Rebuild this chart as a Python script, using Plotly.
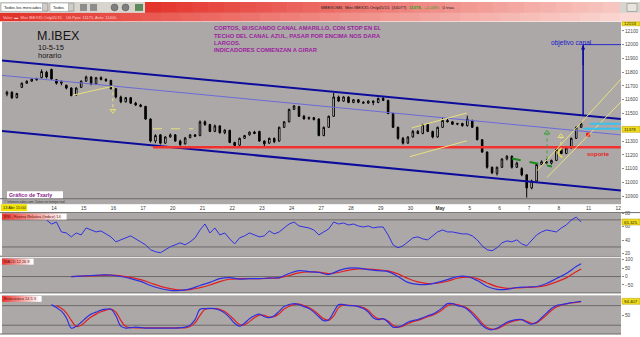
import plotly.graph_objects as go

W, H = 640, 337

# ---------------- data ----------------
day_labels = ["14", "15", "16", "17", "20", "21", "22", "23", "24", "27", "28", "29", "30",
              "<b>May</b>", "5", "6", "7", "8", "11", "12"]
bars_per_day = 6
first_day_bar = 9.5

opens = [11640, 11655, 11615, 11690, 11720, 11735, 11750, 11760, 11800, 11820,
         11745, 11720, 11705, 11685, 11635, 11690, 11735, 11765, 11715, 11760,
         11748, 11740, 11680, 11620, 11585, 11615, 11575, 11562, 11552, 11460,
         11300, 11345, 11285, 11330, 11345, 11300, 11280, 11325, 11345, 11340,
         11440, 11420, 11370, 11410, 11360, 11378, 11290, 11270, 11320, 11345,
         11365, 11370, 11300, 11285, 11320, 11300, 11400, 11440, 11530, 11550,
         11480, 11462, 11470, 11460, 11340, 11400, 11480, 11620, 11590, 11620,
         11580, 11600, 11582, 11576, 11590, 11580, 11610, 11595, 11500, 11400,
         11320, 11285, 11330, 11370, 11355, 11420, 11370, 11330, 11400, 11450,
         11440, 11422, 11428, 11412, 11450, 11400, 11310, 11220, 11110, 11065,
         11110, 11170, 11190, 11110, 11100, 11055, 10960, 11010, 11130, 11150,
         11140, 11160, 11240, 11210, 11250, 11320, 11400]
highs = [11665, 11660, 11650, 11725, 11740, 11755, 11760, 11820, 11810, 11825,
         11750, 11740, 11710, 11690, 11690, 11740, 11775, 11770, 11765, 11770,
         11755, 11745, 11685, 11630, 11620, 11620, 11585, 11570, 11555, 11465,
         11350, 11350, 11335, 11355, 11350, 11310, 11330, 11350, 11350, 11450,
         11450, 11425, 11420, 11415, 11385, 11382, 11295, 11325, 11345, 11370,
         11375, 11375, 11305, 11325, 11325, 11405, 11445, 11535, 11562, 11555,
         11490, 11478, 11475, 11465, 11405, 11485, 11650, 11630, 11625, 11625,
         11605, 11605, 11590, 11595, 11595, 11615, 11625, 11600, 11505, 11405,
         11330, 11335, 11380, 11380, 11425, 11425, 11375, 11405, 11470, 11460,
         11445, 11432, 11432, 11485, 11455, 11405, 11315, 11225, 11115, 11115,
         11175, 11198, 11195, 11150, 11110, 11060, 11020, 11135, 11160, 11170,
         11165, 11245, 11250, 11255, 11325, 11405, 11440]
lows = [11625, 11605, 11610, 11685, 11715, 11730, 11740, 11755, 11755, 11745,
        11710, 11705, 11675, 11625, 11630, 11685, 11730, 11705, 11710, 11740,
        11730, 11675, 11610, 11575, 11580, 11570, 11555, 11545, 11455, 11290,
        11285, 11275, 11280, 11325, 11295, 11265, 11275, 11320, 11330, 11335,
        11410, 11365, 11365, 11355, 11350, 11285, 11250, 11265, 11315, 11340,
        11350, 11295, 11255, 11280, 11285, 11295, 11395, 11435, 11525, 11475,
        11455, 11455, 11450, 11335, 11335, 11395, 11475, 11585, 11585, 11575,
        11575, 11575, 11570, 11570, 11560, 11575, 11590, 11495, 11395, 11310,
        11275, 11280, 11325, 11350, 11350, 11365, 11320, 11325, 11395, 11435,
        11418, 11415, 11405, 11405, 11395, 11305, 11215, 11100, 11060, 11050,
        11105, 11160, 11100, 11105, 11045, 10890, 10950, 11005, 11125, 11135,
        11130, 11155, 11205, 11205, 11245, 11315, 11395]
closes = [11655, 11615, 11645, 11720, 11735, 11750, 11745, 11805, 11765, 11750,
          11720, 11730, 11685, 11630, 11685, 11735, 11765, 11715, 11760, 11748,
          11738, 11680, 11620, 11585, 11615, 11575, 11562, 11552, 11460, 11300,
          11340, 11285, 11330, 11345, 11300, 11275, 11322, 11345, 11335, 11440,
          11420, 11370, 11410, 11360, 11380, 11290, 11268, 11320, 11340, 11365,
          11355, 11300, 11280, 11320, 11295, 11400, 11440, 11530, 11555, 11480,
          11462, 11470, 11456, 11340, 11400, 11480, 11620, 11590, 11620, 11580,
          11600, 11582, 11576, 11590, 11580, 11610, 11595, 11500, 11400, 11320,
          11285, 11330, 11370, 11355, 11420, 11370, 11330, 11400, 11450, 11440,
          11422, 11428, 11412, 11460, 11400, 11310, 11220, 11110, 11070, 11110,
          11170, 11190, 11110, 11140, 11055, 10960, 11010, 11130, 11150, 11140,
          11160, 11240, 11210, 11250, 11320, 11400, 11425]

price_ticks = [10900, 11000, 11100, 11200, 11300, 11500, 11600, 11700, 11800, 11900, 12000, 12100]
last_price = 11378
top_price_label = 12153

rsi_x = [8, 9, 10, 11, 12, 13, 14, 15, 16, 17, 18, 19, 21, 22, 23, 24, 25, 27, 28, 29,
         30, 31, 32, 33, 35, 36, 37, 38, 39, 40, 41, 42, 43, 44, 45, 46, 47, 48, 49, 50,
         51, 52, 53, 54, 55, 56, 57, 58, 59, 60, 61, 62, 63, 64, 65, 66, 67, 68, 69, 70,
         71, 72, 73, 74, 75, 76, 77, 78, 79, 80, 81, 82, 83, 84, 85, 86, 87, 88, 89, 90,
         91, 92, 93, 94, 95, 96, 97, 98, 99, 100, 101, 102, 103, 104, 105, 106, 107, 108,
         109, 110, 111, 112, 113, 114, 115, 116]
rsi_vals = [69.8, 63.9, 66.8, 52.2, 50.7, 44.9, 50.7, 47.8, 58.1, 55.1, 52.2, 53.7, 44.9,
            37.6, 40.5, 43.4, 46.4, 37.6, 33.2, 25.9, 23.0, 21.5, 25.9, 30.3, 36.1, 33.2,
            37.6, 43.4, 55.1, 63.9, 50.7, 58.1, 47.8, 50.7, 42.0, 34.6, 43.4, 46.4, 50.7,
            47.8, 44.9, 46.4, 53.7, 49.3, 52.2, 58.1, 63.9, 66.8, 61.0, 59.5, 58.1, 55.1,
            47.8, 52.2, 56.6, 66.8, 63.9, 65.4, 62.4, 63.9, 61.0, 59.5, 61.0, 58.1, 59.5,
            59.5, 47.8, 33.2, 28.8, 31.7, 37.6, 43.4, 44.9, 42.0, 40.5, 46.4, 52.2, 55.1,
            52.2, 52.2, 50.7, 49.3, 49.3, 46.4, 40.5, 31.7, 25.9, 24.4, 28.8, 36.1, 39.0,
            37.6, 40.5, 34.6, 31.7, 40.5, 47.8, 52.2, 55.1, 53.7, 52.2, 58.1, 62.4, 69.8,
            74.1, 66.8]
rsi_last = "65.325"

macd_x = [13, 15, 17, 19, 21, 23, 25, 27, 29, 31, 33, 35, 37, 39, 41, 43, 45, 47, 49, 51,
          53, 55, 57, 59, 61, 63, 65, 67, 69, 71, 73, 75, 77, 79, 81, 83, 85, 87, 89, 91,
          93, 95, 97, 99, 101, 103, 105, 107, 109, 111, 113, 115, 116]
macd_line = [0, 3, 6, 9, 9, 0, -12, -29, -53, -71, -82, -82, -73, -53, -35, -12, -6, -15,
             -12, -12, -9, -6, 18, 35, 29, 24, 12, 35, 50, 50, 41, 35, 29, 0, -35, -47, -47,
             -35, -18, 0, 0, -24, -59, -76, -76, -65, -62, -59, -41, -12, 18, 59, 76]
macd_signal = [0, 2, 4, 7, 8, 4, -5, -18, -38, -58, -72, -80, -78, -66, -50, -30, -16, -13,
               -12, -12, -10, -8, 6, 22, 27, 26, 18, 24, 38, 45, 44, 40, 34, 16, -12, -32,
               -42, -40, -28, -10, -4, -12, -38, -60, -70, -68, -65, -62, -52, -32, -8, 28, 45]
macd_ticks = [100, 50, 0, -50]

stoch_k_x = [9, 10, 11, 12, 13, 14, 15, 16, 17, 18, 19, 20, 21, 22, 23, 24, 26, 28, 30, 32,
             34, 36, 37, 38, 39, 40, 42, 43, 44, 45, 46, 47, 48, 49, 50, 51, 52, 53, 54, 55,
             56, 58, 59, 60, 61, 62, 63, 64, 65, 66, 67, 68, 69, 70, 71, 72, 73, 74, 75, 76,
             77, 78, 79, 80, 81, 82, 83, 84, 85, 86, 87, 88, 89, 90, 91, 92, 93, 94, 95, 96,
             97, 98, 99, 100, 101, 102, 103, 104, 105, 106, 107, 108, 109, 110, 111, 112, 113,
             114, 115, 116]
stoch_k = [83, 74, 63, 43, 11, 17, 29, 43, 54, 60, 66, 69, 69, 49, 17, 11, 14, 11, 11, 11,
           11, 14, 20, 37, 69, 71, 71, 66, 57, 43, 26, 17, 26, 40, 49, 54, 46, 43, 49, 63,
           77, 86, 83, 77, 71, 60, 46, 34, 37, 60, 83, 83, 80, 80, 77, 71, 60, 43, 37, 40,
           29, 14, 14, 20, 29, 34, 37, 43, 49, 54, 63, 74, 86, 86, 80, 77, 69, 54, 37, 20,
           9, 6, 11, 20, 29, 34, 37, 37, 29, 23, 29, 43, 57, 71, 80, 83, 86, 89, 91, 93]
stoch_d_x = [10, 11, 12, 13, 14, 15, 16, 17, 18, 19, 20, 21, 22, 23, 24, 26, 28, 30, 32, 34,
             36, 37, 38, 39, 40, 42, 43, 44, 45, 46, 47, 48, 49, 50, 51, 52, 53, 54, 55, 56,
             58, 59, 60, 61, 62, 63, 64, 65, 66, 67, 68, 69, 70, 71, 72, 73, 74, 75, 76, 77,
             78, 79, 80, 81, 82, 83, 84, 85, 86, 87, 88, 89, 90, 91, 92, 93, 94, 95, 96, 97,
             98, 99, 100, 101, 102, 103, 104, 105, 106, 107, 108, 109, 110, 111, 112, 113, 114,
             115, 116]
stoch_d = [80, 72, 58, 35, 16, 20, 33, 45, 54, 61, 66, 69, 60, 35, 16, 12, 12, 12, 12, 12,
           12, 16, 27, 50, 68, 71, 69, 62, 50, 35, 22, 21, 31, 43, 51, 50, 45, 46, 55, 70,
           83, 85, 80, 74, 65, 52, 40, 35, 48, 74, 82, 81, 80, 78, 74, 65, 50, 40, 39, 33,
           20, 14, 17, 25, 31, 35, 40, 46, 51, 58, 68, 80, 85, 83, 78, 72, 60, 44, 26, 13,
           8, 9, 16, 25, 31, 35, 37, 32, 26, 27, 38, 51, 65, 76, 81, 85, 88, 90, 92]
stoch_last = "94.407"

# drawn study lines: (bar index pair, price pair)
channel_upper = ([-1.0, 124.0], [11885, 11460])
channel_lower = ([-1.0, 124.0], [11374, 10942])
channel_mid = ([-1.0, 124.0], [11777, 11345])
support_line = ([29.5, 124.0], [11255, 11255])
target_x = 116.4
target_from, target_price = 11482, 12000
cyan_lines = [([117.8, 124.0], [11425, 11425]), ([116.4, 124.0], [11389, 11389])]
red_dot = (117.4, 11345)
yellow_up_a = ([107.1, 124.2], [11086, 11755])
yellow_up_b = ([109.1, 124.2], [11036, 11590])
yellow_apr_upper = ([81.8, 92.9], [11396, 11504])
yellow_apr_lower = ([81.4, 92.9], [11187, 11302])
yellow_mid_apr = ([13.3, 21.4], [11633, 11698])
yellow_drop_arrow = (21.4, 11698, 11520)
yellow_flag = ([29.5, 37.6], [11389, 11389])
green_flag = ([102.0, 110.1], [11173, 11115])
green_arrow = (109.1, 11123, 11360)
yellow_arrow = (111.9, 11230, 11335)
yellow_arc = ([112.2, 111.3, 112.2], [11252, 11215, 11180])

# ---------------- layout helpers ----------------
def PX(px):
    return px / W

def PY(py):
    return 1 - py / H

GRAY = "#ADA8A8"
X_DOM = [PX(2), PX(621)]
X_RANGE = [-1.0, 124.05]

shapes = []
annots = []

def rect(x0, y0, x1, y1, fill, line=None, lw=0):
    shapes.append(dict(type="rect", xref="paper", yref="paper", x0=PX(x0), x1=PX(x1),
                       y0=PY(y1), y1=PY(y0), fillcolor=fill,
                       line=dict(color=line or fill, width=lw), layer="above"))

def hline_px(x0, x1, y, color, w=1):
    shapes.append(dict(type="line", xref="paper", yref="paper", x0=PX(x0), x1=PX(x1),
                       y0=PY(y), y1=PY(y), line=dict(color=color, width=w), layer="above"))

def mix(c0, c1, t):
    a = [int(c0[i:i + 2], 16) for i in (1, 3, 5)]
    b = [int(c1[i:i + 2], 16) for i in (1, 3, 5)]
    return "#%02x%02x%02x" % tuple(round(a[k] + (b[k] - a[k]) * t) for k in range(3))

def gradient(x0, y0, x1, y1, c0, c1, n=24):
    step = (x1 - x0) / n
    for k in range(n):
        rect(x0 + k * step, y0, x0 + (k + 1) * step + 0.6, y1, mix(c0, c1, k / (n - 1)))

def text(px, py, s, size, color="#111", bold=False, anchor="left", bg=None, family="Liberation Sans, Arial"):
    annots.append(dict(xref="paper", yref="paper", x=PX(px), y=PY(py), text=("<b>%s</b>" % s) if bold else s,
                       showarrow=False, xanchor=anchor, yanchor="middle",
                       font=dict(size=size, color=color, family=family),
                       bgcolor=bg, borderpad=0))

def dline(xs, ys, color, width=1, dash="solid"):
    shapes.append(dict(type="line", xref="x", yref="y", x0=xs[0], x1=xs[1], y0=ys[0], y1=ys[1],
                       line=dict(color=color, width=width, dash=dash), layer="above"))

# ---------------- figure ----------------
fig = go.Figure()

fig.add_trace(go.Candlestick(
    x=list(range(len(closes))), open=opens, high=highs, low=lows, close=closes,
    increasing=dict(line=dict(color="#000000", width=1), fillcolor="#FFFFFF"),
    decreasing=dict(line=dict(color="#000000", width=1), fillcolor="#000000"),
    whiskerwidth=0, showlegend=False, hoverinfo="skip", xaxis="x", yaxis="y"))

# markers for arrow heads / dot
fig.add_trace(go.Scatter(x=[yellow_drop_arrow[0]], y=[yellow_drop_arrow[2]], mode="markers",
                         marker=dict(symbol="triangle-down-open", size=5, color="#E8E070", line=dict(width=1)),
                         showlegend=False, hoverinfo="skip"))
fig.add_trace(go.Scatter(x=[green_arrow[0]], y=[green_arrow[2]], mode="markers",
                         marker=dict(symbol="triangle-up-open", size=5, color="#3CA03C", line=dict(width=1)),
                         showlegend=False, hoverinfo="skip"))
fig.add_trace(go.Scatter(x=[yellow_arrow[0]], y=[yellow_arrow[2]], mode="markers",
                         marker=dict(symbol="triangle-up-open", size=5, color="#E8E070", line=dict(width=1)),
                         showlegend=False, hoverinfo="skip"))
fig.add_trace(go.Scatter(x=[red_dot[0]], y=[red_dot[1]], mode="markers",
                         marker=dict(symbol="square", size=4, color="#F02020"),
                         showlegend=False, hoverinfo="skip"))
fig.add_trace(go.Scatter(x=yellow_arc[0], y=yellow_arc[1], mode="lines",
                         line=dict(color="#F0E040", width=1.5, shape="spline"),
                         showlegend=False, hoverinfo="skip"))

# indicators
fig.add_trace(go.Scatter(x=rsi_x, y=rsi_vals, mode="lines", line=dict(color="#2F2FE0", width=1),
                         xaxis="x2", yaxis="y2", showlegend=False, hoverinfo="skip"))
fig.add_trace(go.Scatter(x=macd_x, y=macd_signal, mode="lines", line=dict(color="#E02020", width=1.2, shape="spline"),
                         xaxis="x3", yaxis="y3", showlegend=False, hoverinfo="skip"))
fig.add_trace(go.Scatter(x=macd_x, y=macd_line, mode="lines", line=dict(color="#2F2FE0", width=1.2, shape="spline"),
                         xaxis="x3", yaxis="y3", showlegend=False, hoverinfo="skip"))
fig.add_trace(go.Scatter(x=stoch_d_x, y=stoch_d, mode="lines", line=dict(color="#E02020", width=1.2, shape="spline"),
                         xaxis="x4", yaxis="y4", showlegend=False, hoverinfo="skip"))
fig.add_trace(go.Scatter(x=stoch_k_x, y=stoch_k, mode="lines", line=dict(color="#2F2FE0", width=1.2, shape="spline"),
                         xaxis="x4", yaxis="y4", showlegend=False, hoverinfo="skip"))

# ----- study lines on price chart -----
dline(*channel_mid, "#6A6AD8", 1)
dline(*channel_upper, "#0C0C9C", 2)
dline(*channel_lower, "#0C0C9C", 2)
dline(*support_line, "#F23030", 2.5)
dline(*yellow_up_a, "#E8E27A", 1)
dline(*yellow_up_b, "#E8E27A", 1)
dline(*yellow_apr_upper, "#E8E27A", 1)
dline(*yellow_apr_lower, "#E8E27A", 1)
dline(*yellow_mid_apr, "#E8E27A", 1)
dline([yellow_drop_arrow[0]] * 2, list(yellow_drop_arrow[1:]), "#E8E27A", 1, "dot")
dline(*yellow_flag, "#E8E27A", 1, "dash")
dline(*green_flag, "#1E8A1E", 2, "dash")
dline([green_arrow[0]] * 2, list(green_arrow[1:]), "#3CA03C", 1, "dot")
dline([yellow_arrow[0]] * 2, list(yellow_arrow[1:]), "#E8E27A", 1, "dot")
for xs, ys in cyan_lines:
    dline(xs, ys, "#3CC0EC", 2)
dline([target_x, target_x], [target_from, target_price], "#0C0C9C", 1.5)
dline([target_x, X_RANGE[1]], [target_price, target_price], "#2A2AC8", 1)

# horizontal level lines of indicators
for yref, lv in (("y2", 70), ("y2", 30), ("y3", 0), ("y4", 80), ("y4", 20)):
    xr = "x" + yref[1:]
    shapes.append(dict(type="line", xref=xr + " domain", yref=yref, x0=0, x1=1, y0=lv, y1=lv,
                       line=dict(color="#6F6A6A", width=1), layer="below"))

# ----- top toolbar -----
rect(0, 0, 640, 11, "#D8D5CF")
rect(1, 1, 48, 9.5, "#FFFFFF", "#8A8A8A", 0.5)
rect(42.5, 1.5, 47.5, 9, "#D0CCC6", "#8A8A8A", 0.5)
text(2.5, 5.3, "Todos los mercados", 4.2, "#222")
rect(50, 1, 74, 9.5, "#FFFFFF", "#8A8A8A", 0.5)
rect(68.5, 1.5, 73.5, 9, "#D0CCC6", "#8A8A8A", 0.5)
text(51.5, 5.3, "Todos", 4.2, "#222")
for x0 in (80, 90):
    rect(x0, 2, x0 + 7, 9, "#8C8C8C")
for x0 in (111, 122):
    shapes.append(dict(type="circle", xref="paper", yref="paper", x0=PX(x0), x1=PX(x0 + 7),
                       y0=PY(9), y1=PY(2), fillcolor="#7E7E7E", line=dict(color="#555", width=0.5), layer="above"))
rect(135, 2, 143, 9, "#5C8A5C")
gradient(145, 0, 619, 11, "#E4352D", "#F8C6C0", 30)
rect(627, 1.5, 637, 9.5, "#E8E4DE", "#777", 0.5)
text(320, 5.5, "MBEXOM6  Mini IBEX35 Only05/15  (34077)  <span style='color:#1FA01F'><b>11378,</b></span>"
     "  <span style='color:#1FA01F'>+1.03%</span>   0 trias", 4.3, "#222")
# red info bar
gradient(0, 11, 640, 19.5, "#E3342C", "#FBD8D3", 32)
text(2, 15.3, "Valor: \u25ac  Mini IBEX35 Only05/15    Ult.Ppio: 11175, Ants: 11400.", 4.0, "#F8D0CC")

# ----- main panel texts -----
text(36, 34, "M.IBEX", 12.5, "#141414")
text(37, 45.5, "10-5-15", 7.5, "#141414")
text(37, 54, "horario", 7.5, "#141414")
purple = "#9C1CA0"
for k, line in enumerate(["CORTOS, BUSCANDO CANAL AMARILLO, CON STOP EN EL",
                          "TECHO DEL CANAL AZUL, PASAR POR ENCIMA NOS DARA",
                          "LARGOS.",
                          "INDICADORES COMIENZAN A GIRAR"]):
    text(213, 26.7 + k * 7.2, line, 5.8, purple, bold=True)
text(550, 41.5, "objetivo canal", 6.6, "#1616C8")
text(586, 153, "soporte", 6.0, "#E82020", bold=True)
annots.append(dict(xref="x", yref="y", x=target_x, y=target_price - 5, ax=target_x, ay=target_price - 160,
                   axref="x", ayref="y", showarrow=True, arrowhead=2, arrowsize=0.7, arrowwidth=1.2,
                   arrowcolor="#0C0C9C", text=""))

# bottom of main panel
hline_px(0, 621, 198.5, "#6E6A6A", 1)
rect(7, 191, 63, 198, "#FFFFFF")
text(8, 194.6, "Gráfico de Txarly", 5.3, "#8A1C8A", bold=True)
text(3, 201.3, "\u00a9 Infomercados.com. Datos en tiempo real", 3.2, "#333")
rect(1, 204, 27, 211, "#F2E400")
text(2, 207.6, "13 Abr 15:00", 4.0, "#222")
hline_px(0, 640, 212.5, "#6E6A6A", 1)

# indicator label boxes
for y0, y1, w, lab in ((213.5, 219.5, 64, "RSI - Fuerza Relativa (Indice) 14"),
                       (259, 265, 31, "MACD 12 26 9"),
                       (296.5, 302.5, 39, "Estocástico 14 5 3")):
    gradient(2, y0, 2 + w, y1, "#EC3A32", "#FFFFFF", 16)
    text(3, (y0 + y1) / 2, lab, 3.9, "#5A1010")

# panel separators
hline_px(0, 621, 256.5, "#6E6A6A", 1)
hline_px(0, 621, 293.5, "#6E6A6A", 1)
hline_px(0, 621, 335, "#6E6A6A", 1)

# right-side value boxes
def ybox(py0, py1, s):
    rect(622, py0, 640, py1, "#F0DC18", "#B09A00", 0.5)
    text(623, (py0 + py1) / 2, s, 4.3, "#222")

ybox(20, 24, str(top_price_label))
ybox(125.5, 131.5, str(last_price))
ybox(219, 225, rsi_last)
ybox(299, 305, stoch_last)

axis_font = dict(size=4.8, color="#4A4A4A", family="Liberation Sans, Arial")
common_y = dict(side="right", showgrid=False, zeroline=False, ticks="outside", ticklen=2,
                tickcolor="#8A8A8A", tickfont=axis_font, showline=False, fixedrange=True)
common_x = dict(domain=X_DOM, range=X_RANGE, showgrid=False, zeroline=False, fixedrange=True)

fig.update_layout(
    width=W, height=H, margin=dict(l=0, r=0, t=0, b=0),
    paper_bgcolor="#FFFFFF", plot_bgcolor=GRAY, showlegend=False,
    boxgap=0.55,
    xaxis=dict(**common_x, anchor="y", tickvals=[first_day_bar + bars_per_day * k for k in range(len(day_labels))],
               ticktext=day_labels, ticks="", tickfont=dict(size=4.8, color="#333", family="Liberation Sans, Arial"),
               rangeslider=dict(visible=False), showline=False),
    yaxis=dict(**common_y, domain=[PY(204), PY(20)], range=[10842, 12165.5], anchor="x",
               tickvals=price_ticks, ticktext=[str(v) for v in price_ticks]),
    xaxis2=dict(**common_x, anchor="y2", showticklabels=False, ticks=""),
    yaxis2=dict(**common_y, domain=[PY(256), PY(213)], range=[17.1, 80.0], anchor="x2",
                tickvals=[80, 60, 40, 20]),
    xaxis3=dict(**common_x, anchor="y3", showticklabels=False, ticks=""),
    yaxis3=dict(**common_y, domain=[PY(293.5), PY(258)], range=[-97, 111.7], anchor="x3",
                tickvals=macd_ticks),
    xaxis4=dict(**common_x, anchor="y4", showticklabels=False, ticks=""),
    yaxis4=dict(**common_y, domain=[PY(335), PY(296)], range=[-7, 111.4], anchor="x4",
                tickvals=[50]),
    shapes=shapes, annotations=annots,
)

fig.write_html("out.html")
